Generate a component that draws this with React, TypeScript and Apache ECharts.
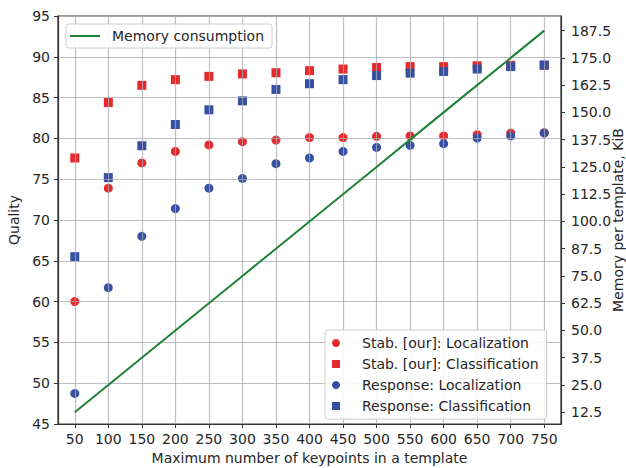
import React, { useEffect, useRef } from "react";
import * as echarts from "echarts";

const keypoints = [50, 100, 150, 200, 250, 300, 350, 400, 450, 500, 550, 600, 650, 700, 750];
const stabLocalization = [60.0, 73.9, 77.0, 78.4, 79.2, 79.6, 79.8, 80.1, 80.1, 80.25, 80.3, 80.3, 80.45, 80.65, 80.7];
const stabClassification = [77.6, 84.4, 86.5, 87.2, 87.6, 87.9, 88.05, 88.3, 88.5, 88.7, 88.8, 88.8, 88.9, 88.95, 88.95];
const responseLocalization = [48.75, 61.7, 68.0, 71.4, 73.9, 75.1, 76.9, 77.6, 78.4, 78.9, 79.15, 79.35, 80.05, 80.3, 80.65];
const responseClassification = [65.5, 75.2, 79.1, 81.7, 83.5, 84.6, 86.0, 86.7, 87.2, 87.7, 88.0, 88.2, 88.5, 88.8, 89.0];
const memoryKiB = [12.5, 25, 37.5, 50, 62.5, 75, 87.5, 100, 112.5, 125, 137.5, 150, 162.5, 175, 187.5];
const xTickValues = [50, 100, 150, 200, 250, 300, 350, 400, 450, 500, 550, 600, 650, 700, 750];
const memoryTickValues = [12.5, 25, 37.5, 50, 62.5, 75, 87.5, 100, 112.5, 125, 137.5, 150, 162.5, 175, 187.5];

const FONT = "DejaVu Sans";
const TEXT = "#262626";
const RED = "#e8292b";
const BLUE = "#3550a3";
const GREEN = "#1f8236";
const SQUARE = "path://M0,0 L10,0 L10,10 L0,10 Z";

const pairs = (ys: number[]) => keypoints.map((x, i) => [x, ys[i]]);

export default function App() {
  const ref = useRef<HTMLDivElement>(null);
  useEffect(() => {
    document.body.style.margin = "0";
    if (!ref.current) return;
    const chart = echarts.init(ref.current, undefined, { renderer: "svg" });
    const gridLine = { show: true, lineStyle: { color: "rgba(170,170,176,0.75)", width: 1.2 } };
    chart.setOption({
      animation: false,
      textStyle: { fontFamily: FONT, color: TEXT },
      grid: {
        left: 58,
        right: 65,
        top: 16,
        bottom: 44,
        outerBoundsMode: "none",
        containLabel: false,
        show: true,
        borderColor: "#333",
        borderWidth: 1.2,
        backgroundColor: "transparent",
      },
      legend: [
        {
          data: [{ name: "Memory consumption", icon: "rect" }],
          left: 66,
          top: 24,
          orient: "horizontal",
          itemWidth: 30,
          itemHeight: 2,
          padding: [5, 8, 5, 4],
          backgroundColor: "rgba(255,255,255,0.85)",
          borderColor: "#cccccc",
          borderWidth: 1,
          borderRadius: 3,
          textStyle: { fontFamily: FONT, fontSize: 14, color: TEXT, padding: [0, 0, 0, 7] },
        },
        {
          data: [
            { name: "Stab. [our]: Localization", icon: "circle" },
            { name: "Stab. [our]: Classification", icon: SQUARE },
            { name: "Response: Localization", icon: "circle" },
            { name: "Response: Classification", icon: SQUARE },
          ],
          left: 325,
          top: 330,
          orient: "vertical",
          itemWidth: 24,
          itemHeight: 8,
          itemGap: 7,
          padding: [6, 8, 6, 7],
          backgroundColor: "rgba(255,255,255,0.85)",
          borderColor: "#cccccc",
          borderWidth: 1,
          borderRadius: 3,
          textStyle: { fontFamily: FONT, fontSize: 14, color: TEXT, padding: [0, 0, 0, 9] },
        },
      ],
      xAxis: {
        type: "value",
        min: 25,
        max: 775,
        z: 3,
        name: "Maximum number of keypoints in a template",
        nameLocation: "middle",
        nameGap: 26,
        nameTextStyle: { fontFamily: FONT, fontSize: 14, color: TEXT },
        axisLine: { show: true, lineStyle: { color: "#333", width: 1.2 } },
        axisTick: { show: true, length: 4, customValues: xTickValues, lineStyle: { color: "#333" } },
        axisLabel: { customValues: xTickValues, fontFamily: FONT, fontSize: 14, color: TEXT, margin: 8 },
        splitLine: gridLine,
      },
      yAxis: [
        {
          type: "value",
          min: 45,
          max: 95,
          interval: 5,
          z: 3,
          name: "Quality",
          nameLocation: "middle",
          nameRotate: 90,
          nameGap: 37,
          nameTextStyle: { fontFamily: FONT, fontSize: 14, color: TEXT },
          axisLine: { show: true, lineStyle: { color: "#333", width: 1.2 } },
          axisTick: { show: true, length: 4, lineStyle: { color: "#333" } },
          axisLabel: { fontFamily: FONT, fontSize: 14, color: TEXT, margin: 8 },
          splitLine: gridLine,
        },
        {
          type: "value",
          position: "right",
          min: 7.1,
          max: 194.2,
          z: 3,
          name: "Memory per template, KiB",
          nameLocation: "middle",
          nameRotate: 90,
          nameGap: 50,
          nameMoveOverlap: false,
          nameTextStyle: { fontFamily: FONT, fontSize: 14, color: TEXT },
          axisLine: { show: true, lineStyle: { color: "#333", width: 1.2 } },
          axisTick: { show: true, length: 4, customValues: memoryTickValues, lineStyle: { color: "#333" } },
          axisLabel: {
            customValues: memoryTickValues,
            fontFamily: FONT,
            fontSize: 14,
            color: TEXT,
            margin: 10,
            formatter: (v: number) => v.toFixed(1),
          },
          splitLine: { show: false },
        },
      ],
      series: [
        {
          name: "Stab. [our]: Localization",
          type: "scatter",
          symbol: "circle",
          symbolSize: 9,
          itemStyle: { color: RED, opacity: 1 },
          data: pairs(stabLocalization),
        },
        {
          name: "Stab. [our]: Classification",
          type: "scatter",
          symbol: "rect",
          symbolSize: 9,
          itemStyle: { color: RED, opacity: 1 },
          data: pairs(stabClassification),
        },
        {
          name: "Response: Localization",
          type: "scatter",
          symbol: "circle",
          symbolSize: 9,
          itemStyle: { color: BLUE, opacity: 1 },
          data: pairs(responseLocalization),
        },
        {
          name: "Response: Classification",
          type: "scatter",
          symbol: "rect",
          symbolSize: 9,
          itemStyle: { color: BLUE, opacity: 1 },
          data: pairs(responseClassification),
        },
        {
          name: "Memory consumption",
          type: "line",
          yAxisIndex: 1,
          symbol: "none",
          z: 4,
          lineStyle: { color: GREEN, width: 2 },
          itemStyle: { color: GREEN },
          data: pairs(memoryKiB),
        },
      ],
    });
    return () => chart.dispose();
  }, []);
  return <div ref={ref} style={{ width: 626, height: 468 }} />;
}
